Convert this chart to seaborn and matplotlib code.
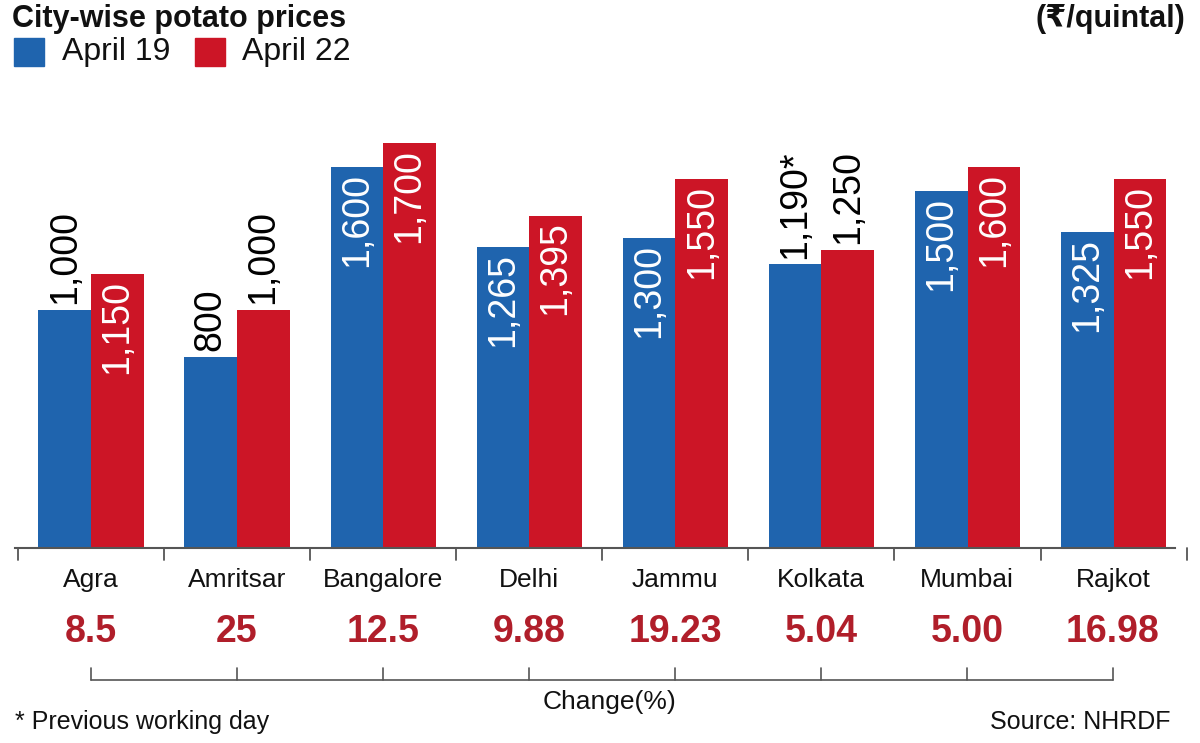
import matplotlib
matplotlib.use("Agg")
import matplotlib.pyplot as plt
import seaborn as sns
import pandas as pd

cities = ["Agra", "Amritsar", "Bangalore", "Delhi", "Jammu", "Kolkata", "Mumbai", "Rajkot"]
april19 = [1000, 800, 1600, 1265, 1300, 1190, 1500, 1325]
april22 = [1150, 1000, 1700, 1395, 1550, 1250, 1600, 1550]
changes = ["8.5", "25", "12.5", "9.88", "19.23", "5.04", "5.00", "16.98"]
labels19 = ["1,000", "800", "1,600", "1,265", "1,300", "1,190*", "1,500", "1,325"]
labels22 = ["1,150", "1,000", "1,700", "1,395", "1,550", "1,250", "1,600", "1,550"]
outside19 = [True, True, False, False, False, True, False, False]
outside22 = [False, True, False, False, False, True, False, False]

sns.set_theme(style="white")
plt.rcParams['font.family'] = ['Liberation Sans Narrow', 'Liberation Sans', 'DejaVu Sans']

BLUE = "#1f64ae"
RED = "#cc1526"
DARKRED = "#b01e2a"

df = pd.DataFrame({
    "city": cities * 2,
    "value": april19 + april22,
    "series": ["April 19"] * 8 + ["April 22"] * 8,
})

W, H = 1200, 743
fig = plt.figure(figsize=(12, 7.43), dpi=100)
ax = fig.add_axes([15 / W, (H - 548) / H, 1160 / W, 548 / H])
sns.barplot(data=df, x="city", y="value", hue="series", palette=[BLUE, RED],
            width=0.72, ax=ax, legend=False, saturation=1, linewidth=0)
ax.set_ylim(0, 2300)
ax.set_xlim(-0.52, 7.42)
for s in ["top", "right", "left"]:
    ax.spines[s].set_visible(False)
ax.spines["bottom"].set_color("#555555")
ax.spines["bottom"].set_linewidth(1.5)
ax.set_xticks([])
ax.set_yticks([])
ax.set_xlabel("")
ax.set_ylabel("")

off = 0.18
for i in range(8):
    for x, v, lab, out in [(i - off, april19[i], labels19[i], outside19[i]),
                           (i + off, april22[i], labels22[i], outside22[i])]:
        if out:
            ax.text(x, v + 25, lab, rotation=90, ha="center", va="bottom",
                    fontsize=27, color="black")
        else:
            ax.text(x, v - 25, lab, rotation=90, ha="center", va="top",
                    fontsize=27, color="white")

for b in range(9):
    ax.plot([b - 0.5, b - 0.5], [0, -50], color="#555555", lw=1.3, clip_on=False)

def px(x, y):
    return x / W, 1 - y / H

for i, c in enumerate(cities):
    cx = 91 + 146 * i
    fig.text(*px(cx, 580), c, ha="center", va="center", fontsize=19, color="#111111")
    fig.text(*px(cx, 632), changes[i], ha="center", va="center", fontsize=27,
             color=DARKRED, fontweight="bold")
    fig.add_artist(plt.Line2D([cx / W, cx / W], [1 - 668 / H, 1 - 680 / H],
                              color="#555555", lw=1.2))
fig.add_artist(plt.Line2D([91 / W, (91 + 146 * 7) / W], [1 - 680 / H] * 2,
                          color="#555555", lw=1.2))
fig.text(*px(610, 702), "Change(%)", ha="center", va="center", fontsize=19,
         color="#111111", bbox=dict(facecolor="white", edgecolor="none", pad=2))
fig.text(*px(15, 722), "* Previous working day", ha="left", va="center",
         fontsize=18, color="#111111")
fig.text(*px(1170, 722), "Source: NHRDF", ha="right", va="center",
         fontsize=18, color="#111111")

fig.text(*px(12, 4), "City-wise potato prices", ha="left", va="top",
         fontsize=22, fontweight="bold", color="#111111")
fig.text(*px(1185, 4), "(₹/quintal)", ha="right", va="top",
         fontsize=22, fontweight="bold", color="#111111")

fig.add_artist(plt.Rectangle(px(14, 66), 30 / W, 28 / H, color=BLUE))
fig.text(*px(62, 52), "April 19", ha="left", va="center", fontsize=23, color="#111111")
fig.add_artist(plt.Rectangle(px(195, 66), 30 / W, 28 / H, color=RED))
fig.text(*px(242, 52), "April 22", ha="left", va="center", fontsize=23, color="#111111")

fig.savefig("out.png", dpi=100, facecolor="white")
